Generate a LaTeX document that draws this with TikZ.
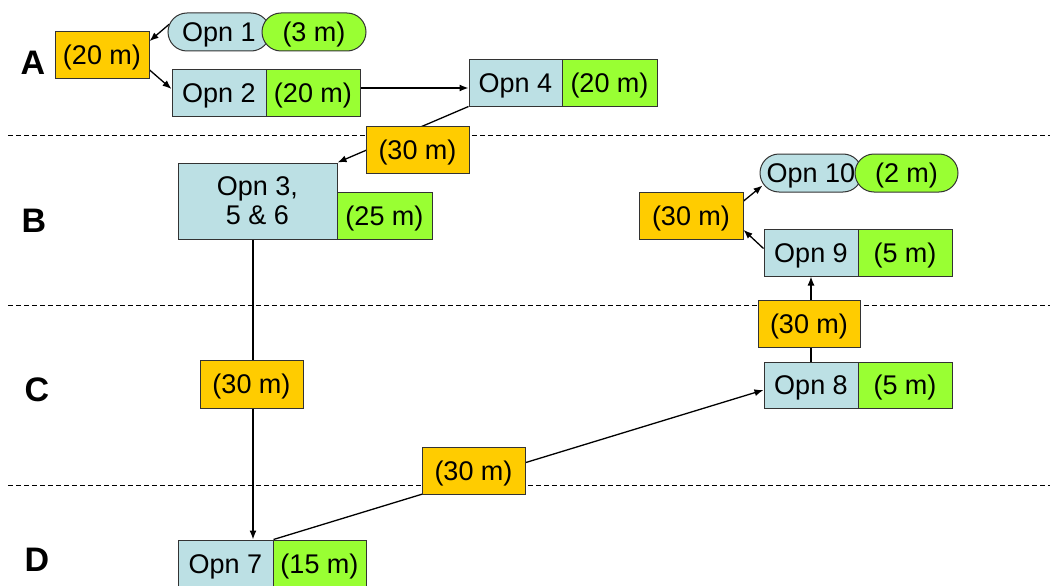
\documentclass[tikz,border=0pt]{standalone}
\usepackage{fontspec}
\setmainfont{Liberation Sans}
\usetikzlibrary{arrows.meta,calc}
\pgfdeclarelayer{bg}
\pgfsetlayers{bg,main}
\definecolor{cblue}{HTML}{BCE0E4}
\definecolor{cgreen}{HTML}{99FF33}
\definecolor{corange}{HTML}{FFCC00}
\definecolor{cedge}{HTML}{333333}
\tikzset{
  box/.style={draw=cedge, line width=1pt, inner sep=0pt, align=center,
    font=\fontsize{27}{31}\selectfont},
  oneline/.style={text height=19pt, text depth=0pt},
  blu/.style={box, oneline, fill=cblue, minimum width=94, minimum height=46},
  grn/.style={box, oneline, fill=cgreen, minimum width=94, minimum height=46},
  org/.style={box, oneline, fill=corange, minimum width=103, minimum height=47},
  pill/.style={rounded corners=19pt, minimum height=38},
  arr/.style={line width=1.3pt, -{Latex[length=9pt,width=7pt]}},
  sep/.style={line width=0.9pt, dash pattern=on 5pt off 3pt},
  lvl/.style={font=\fontsize{34}{38}\selectfont\bfseries},
}
\begin{document}
\begin{tikzpicture}[x=1pt,y=-1pt]
\useasboundingbox (0,0) rectangle (1050,586);
% level labels
\node[lvl] (lA) at (33,63) {A};
\node[lvl] (lB) at (34,221) {B};
\node[lvl] (lC) at (37,390) {C};
\node[lvl] (lD) at (37,560) {D};
% separators
\begin{pgfonlayer}{bg}
\coordinate (s1a) at (8,135); \coordinate (s1b) at (1050,135);
\coordinate (s2a) at (8,305); \coordinate (s2b) at (1050,305);
\coordinate (s3a) at (8,485); \coordinate (s3b) at (1050,485);
\draw[sep] (s1a) -- (s1b);
\draw[sep] (s2a) -- (s2b);
\draw[sep] (s3a) -- (s3b);
\end{pgfonlayer}
% nodes
\node[org, minimum width=94] (or20) at (102,55.5) {(20 m)};
\node[blu, pill, minimum width=102] (o1) at (219,32) {Opn 1};
\node[grn, pill, minimum width=104] (o1g) at (314,32) {(3 m)};
\node[blu] (o2) at (219,93) {Opn 2};
\node[grn] (o2g) at (313,93) {(20 m)};
\node[blu, minimum width=93] (o4) at (515.5,83) {Opn 4};
\node[grn, minimum width=95] (o4g) at (609.5,83) {(20 m)};
\node[org] (orA) at (417.5,149.5) {(30 m)};
\node[box, fill=cblue, minimum width=159, minimum height=76] (o3) at (257.5,201) {Opn 3,\\[-2pt]5 \& 6};
\node[grn, minimum width=95, minimum height=47] (o3g) at (384.5,215.5) {(25 m)};
\node[org, minimum height=48] (orB) at (251.5,384) {(30 m)};
\node[blu, minimum width=95, minimum height=47] (o7) at (225.5,563.5) {Opn 7};
\node[grn, minimum width=93, minimum height=47] (o7g) at (319.5,563.5) {(15 m)};
\node[org] (orC) at (473.5,470.5) {(30 m)};
\node[blu] (o8) at (811,385) {Opn 8};
\node[grn] (o8g) at (905,385) {(5 m)};
\node[org, minimum width=102] (orD) at (809,323.5) {(30 m)};
\node[blu, minimum height=47] (o9) at (811,252.5) {Opn 9};
\node[grn, minimum height=47] (o9g) at (905,252.5) {(5 m)};
\node[org, minimum width=104] (orE) at (691,215.5) {(30 m)};
\node[blu, pill, minimum width=102] (o10) at (811,173) {Opn 10};
\node[grn, pill, minimum width=103] (o10g) at (906.5,173) {(2 m)};
% connectors
\begin{pgfonlayer}{bg}
\draw[arr] ([xshift=2pt,yshift=8pt]o1.west) -- ($(or20.north east)!0.2!(or20.south east)$);
\draw[arr] ($(or20.north east)!0.8!(or20.south east)$) -- ([yshift=4pt]o2.west);
\coordinate (p1) at ([yshift=5pt]o2g.east);
\draw[arr] (p1) -- (p1 -| o4.west);
\draw[arr] (o4.south west) -- (o3.north east);
\draw[arr] ([xshift=-4.5pt]o3.south) -- ([xshift=-4.5pt]o3.south |- o7.north);
\draw[arr] (o7.north east) -- ([yshift=-5pt]o8.west);
\draw[arr] (o8.north) -- (o9.south);
\draw[arr] ([yshift=4pt]o9.west) -- ($(orE.north east)!0.8!(orE.south east)$);
\draw[arr] ($(orE.north east)!0.2!(orE.south east)$) -- ([xshift=3pt,yshift=7pt]o10.south west);
\end{pgfonlayer}
\end{tikzpicture}
\end{document}
